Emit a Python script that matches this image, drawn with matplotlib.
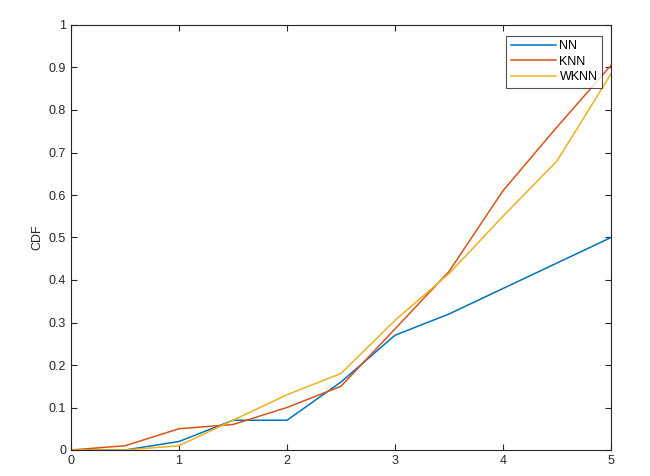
import matplotlib.pyplot as plt

x = [0, 0.5, 1, 1.5, 2, 2.5, 3, 3.5, 4, 4.5, 5]
nn = [0, 0, 0.02, 0.07, 0.07, 0.16, 0.27, 0.32, 0.38, 0.44, 0.50]
knn = [0, 0.01, 0.05, 0.06, 0.10, 0.15, 0.285, 0.42, 0.61, 0.76, 0.905]
wknn = [0, 0, 0.01, 0.07, 0.13, 0.18, 0.305, 0.415, 0.55, 0.68, 0.885]

labels = ["NN", "KNN", "WKNN"]
colors = ["#0072BD", "#D95319", "#EDB120"]

plt.rcParams["font.family"] = ["Liberation Sans", "DejaVu Sans"]
plt.rcParams["font.size"] = 9

fig = plt.figure(figsize=(6.5, 4.76), dpi=100)
ax = fig.add_axes([71 / 650, 26 / 476, 540 / 650, 425 / 476])

for y, lab, c in zip([nn, knn, wknn], labels, colors):
    ax.plot(x, y, color=c, linewidth=1.1, label=lab)

ax.set_xlim(0, 5)
ax.set_ylim(0, 1)
ax.set_xticks(range(6))
ax.set_yticks([i / 10 for i in range(11)])
ax.set_yticklabels(["0", "0.1", "0.2", "0.3", "0.4", "0.5", "0.6", "0.7", "0.8", "0.9", "1"])
ax.set_ylabel("CDF", color="#262626")

gray = "#262626"
for s in ax.spines.values():
    s.set_color(gray)
    s.set_linewidth(0.8)
ax.tick_params(direction="in", length=4, width=0.8, colors=gray, top=True, right=True,
               labeltop=False, labelright=False)

leg = ax.legend(loc="upper right", bbox_to_anchor=(0.983, 0.975), frameon=True,
                fancybox=False, edgecolor="#262626", handlelength=3.6,
                borderpad=0.35, labelspacing=0.3, handletextpad=0.3, borderaxespad=0)
leg.get_frame().set_linewidth(0.8)

fig.savefig("out.png", dpi=100)
